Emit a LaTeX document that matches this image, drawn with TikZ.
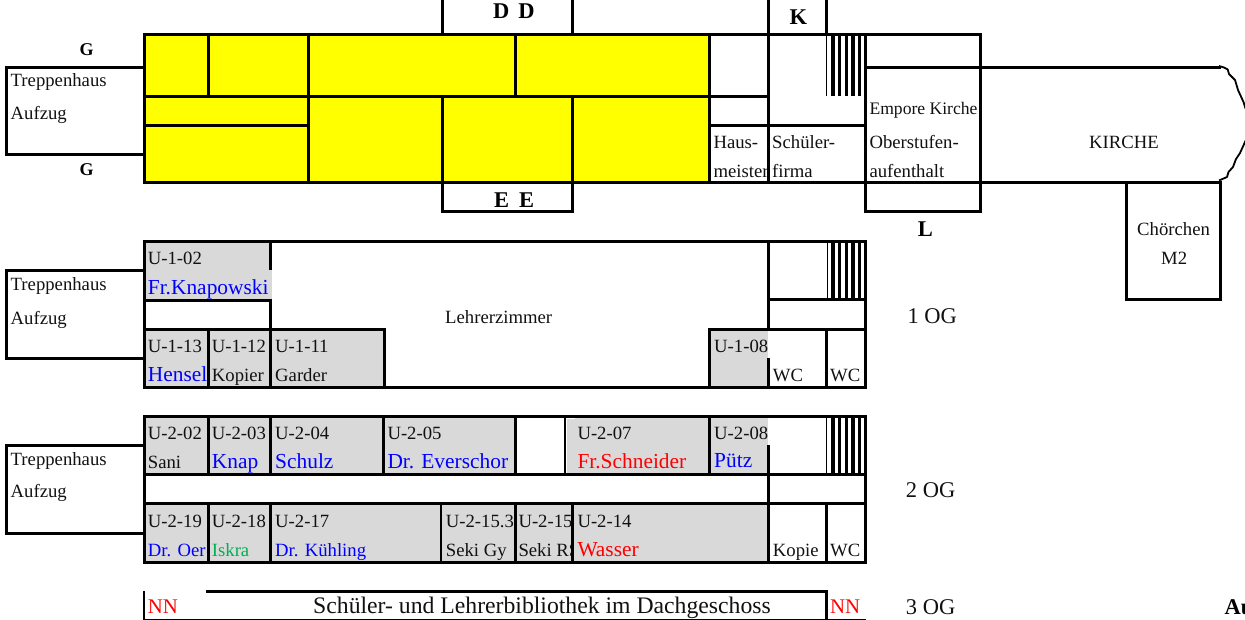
\documentclass[tikz,border=0pt]{standalone}
\usepackage{fontspec}
\setmainfont{Liberation Serif}
\definecolor{roomgrey}{HTML}{D9D9D9}
\definecolor{roomyellow}{HTML}{FFFF00}
\definecolor{nblue}{HTML}{0000FF}
\definecolor{nred}{HTML}{FF0000}
\definecolor{ngreen}{HTML}{00B050}
\definecolor{inkblack}{HTML}{111111}
\tikzset{
  wall/.style={line width=3pt,line cap=rect,draw=black},
  thinwall/.style={line width=1.6pt,draw=black},
  stripe/.style={line width=3.4pt,draw=black},
  lift/.style={yshift=-0.8pt},
  txt/.style={lift,anchor=base west,inner sep=0pt,text=inkblack,font=\fontsize{18.7pt}{20pt}\selectfont},
  big/.style={lift,anchor=base west,inner sep=0pt,text=inkblack,font=\fontsize{21.4pt}{23pt}\selectfont},
  nnlbl/.style={lift,anchor=base west,inner sep=0pt,text=nred,font=\fontsize{20.8pt}{23pt}\selectfont},
  biblbl/.style={lift,anchor=base west,inner sep=0pt,text=inkblack,font=\fontsize{23.7pt}{25pt}\selectfont},
  floorlbl/.style={lift,anchor=base west,inner sep=0pt,text=inkblack,font=\fontsize{22.5pt}{24pt}\selectfont},
  bold/.style={lift,anchor=base west,inner sep=0pt,text=black,font=\bfseries\fontsize{22.5pt}{24pt}\selectfont},
  boldg/.style={lift,anchor=base,inner sep=0pt,text=black,font=\bfseries\fontsize{18pt}{20pt}\selectfont}
}
\begin{document}
\begin{tikzpicture}[x=1pt,y=-1pt]
\useasboundingbox (0,0) rectangle (1245,620);
% fills
\fill[roomyellow] (144,35) rectangle (709,183);
\fill[roomgrey] (144,241.5) rectangle (272,300);
\fill[roomgrey] (144,329.5) rectangle (384,387);
\fill[roomgrey] (709,329.5) rectangle (768.3,387);
\fill[roomgrey] (144,416.7) rectangle (515,474.3);
\fill[roomgrey] (567,416.7) rectangle (768.3,474.3);
\fill[roomgrey] (144,503.3) rectangle (768.3,562);
% ground floor texts
\node[txt] (a1) at (10.5,86) {Treppenhaus};
\node[txt] (a2) at (10.5,119) {Aufzug};
\node[boldg] (g1) at (86.5,55) {G};
\node[boldg] (g2) at (86.5,174.5) {G};
\node[bold] (d) at (493,18) {D \kern3.4pt D};
\node[bold] (e) at (494,207) {E \kern4.2pt E};
\node[bold] (k) at (789.3,23.5) {K};
\node[bold] (l) at (917.7,236) {L};
\node[txt] (h1) at (713.3,148) {Haus-};
\node[txt] (h2) at (713.3,177) {meister};
\node[txt] (s1) at (772,148) {Schüler-};
\node[txt] (s2) at (772,177) {firma};
\node[txt,font=\fontsize{17.6pt}{20pt}\selectfont] (e1) at (869.3,114) {Empore Kirche};
\node[txt] (e2) at (869.3,148) {Oberstufen-};
\node[txt] (e3) at (869.3,177) {aufenthalt};
\node[txt] (kir) at (1089,148) {KIRCHE};
\node[txt] (c1) at (1137,235) {Chörchen};
\node[txt] (c2) at (1161,264) {M2};
% first floor texts
\node[txt] (b1) at (10.5,290) {Treppenhaus};
\node[txt] (b2) at (10.5,323.3) {Aufzug};
\node[txt] (r102) at (147.7,264) {U-1-02};
\node[big,text=nblue] (n102) at (147.7,293.3) {Fr.Knapowski};
\node[txt] (r113) at (147.7,351.7) {U-1-13};
\node[big,text=nblue] (n113) at (147.7,380.3) {Hensel};
\node[txt] (r112) at (211.7,351.7) {U-1-12};
\node[txt] (n112) at (211.7,380.3) {Kopier};
\node[txt] (r111) at (275,351.7) {U-1-11};
\node[txt] (n111) at (275,380.3) {Garder};
\node[txt] (lz) at (445,323) {Lehrerzimmer};
\node[txt] (r108) at (714,351.7) {U-1-08};
\node[txt] (wc1) at (772.7,380.3) {WC};
\node[txt] (wc2) at (830,380.3) {WC};
\node[floorlbl] (og1) at (907.3,322.3) {1 OG};
% second floor texts
\node[txt] (c1b) at (10.5,465) {Treppenhaus};
\node[txt] (c2b) at (10.5,497) {Aufzug};
\node[txt] (r202) at (147.7,439) {U-2-02};
\node[txt] (n202) at (147.7,467.5) {Sani};
\node[txt] (r203) at (211.7,439) {U-2-03};
\node[big,text=nblue] (n203) at (211.7,467.5) {Knap};
\node[txt] (r204) at (275,439) {U-2-04};
\node[big,text=nblue] (n204) at (275,467.5) {Schulz};
\node[txt] (r205) at (387.3,439) {U-2-05};
\node[big,text=nblue] (n205) at (387.3,467.5) {Dr. Everschor};
\node[txt] (r207) at (577.3,439) {U-2-07};
\node[big,text=nred] (n207) at (577.3,467.5) {Fr.Schneider};
\node[txt] (r208) at (714,439) {U-2-08};
\node[big,text=nblue] (n208) at (714,466.5) {Pütz};
\node[txt] (r219) at (147.7,526.7) {U-2-19};
\node[txt,text=nblue] (n219) at (147.7,555.3) {Dr. Oer};
\node[txt] (r218) at (211.7,526.7) {U-2-18};
\node[txt,text=ngreen] (n218) at (211.7,555.3) {Iskra};
\node[txt] (r217) at (275,526.7) {U-2-17};
\node[txt,text=nblue] (n217) at (275,555.3) {Dr. Kühling};
\node[txt] (r2153) at (445.7,526.7) {U-2-15.3};
\node[txt] (n2153) at (445.7,555.3) {Seki Gy};
\node[txt] (r215) at (518.3,526.7) {U-2-15};
\begin{scope}
\clip (515,530) rectangle (572,562);
\node[txt] (n215) at (518.3,555.3) {Seki RS};
\end{scope}
\node[txt] (r214) at (577.3,526.7) {U-2-14};
\node[big,text=nred] (n214) at (577.3,555.3) {Wasser};
\node[txt] (kop) at (772.7,555.3) {Kopie};
\node[txt] (wc3) at (830,555.3) {WC};
\node[floorlbl] (og2) at (905.7,496.7) {2 OG};
% third floor texts
\node[nnlbl] (nn1) at (147.7,612.3) {NN};
\node[biblbl] (bib) at (313,612.3) {Schüler- und Lehrerbibliothek im Dachgeschoss};
\node[nnlbl] (nn2) at (830,612.3) {NN};
\node[floorlbl] (og3) at (905.7,613.3) {3 OG};
\node[bold] (au) at (1224.3,613.3) {Au};
% ground floor walls
\draw[wall] (144,35) rectangle (709,183);
\draw[wall] (709,35) -- (980,35) -- (980,212) -- (865,212) -- (865,35);
\draw[wall] (709,183) -- (1220.5,183);
\draw[wall] (865,67.5) -- (1219,67.5);
\draw[wall] (144,67.5) -- (6.5,67.5) -- (6.5,154.5) -- (144,154.5);
\draw[wall] (144,96.5) -- (768.5,96.5);
\draw[wall] (144,125.5) -- (308.5,125.5);
\draw[wall] (709,125.5) -- (865,125.5);
\draw[wall] (208,35) -- (208,96.5);
\draw[wall] (308.5,35) -- (308.5,183);
\draw[wall] (515,35) -- (515,96.5);
\draw[wall] (442,-3) -- (442,35);
\draw[wall] (572.5,-3) -- (572.5,35);
\draw[wall] (442,96.5) -- (442,212) -- (572.5,212) -- (572.5,96.5);
\draw[wall] (768.5,-3) -- (768.5,183);
\draw[wall] (826.5,-3) -- (826.5,35);
\draw[wall] (1126.7,183) -- (1126.7,300) -- (1220.5,300) -- (1220.5,183);
\draw[line width=1.8pt,line join=round] (1219,66) -- (1224,67.5) -- (1227.7,69.5) -- (1229,74) -- (1235,80) -- (1238,90) -- (1243.5,102) -- (1245,107) -- (1252,125) -- (1245,142) -- (1240,153) -- (1236,159) -- (1233,167) -- (1228.5,172) -- (1227,177) -- (1219,180.5);
% ground floor stairs
\draw[thinwall,line width=1pt] (826.5,35) -- (826.5,96);
\foreach \sx in {833,839.6,846.2,852.8,859.4} \draw[stripe] (\sx,35) -- (\sx,96);
% first floor walls
\draw[wall] (144,241.5) -- (865,241.5) -- (865,387) -- (144,387) -- cycle;
\draw[wall] (144,270.5) -- (6.5,270.5) -- (6.5,358.5) -- (144,358.5);
\draw[wall] (144,300.5) -- (270.5,300.5) -- (270.5,329.5);
\draw[wall] (270.5,241.5) -- (270.5,269);
\draw[wall] (144,329.5) -- (384,329.5) -- (384,387);
\draw[wall] (208,329.5) -- (208,387);
\draw[wall] (270.5,329.5) -- (270.5,387);
\draw[wall] (709,387) -- (709,329.5) -- (865,329.5);
\draw[wall] (768.5,241.5) -- (768.5,329.5);
\draw[wall] (768.5,359) -- (768.5,387);
\draw[wall] (826.5,329.5) -- (826.5,387);
\draw[wall] (768.5,300) -- (865,300);
\draw[thinwall,line width=1pt] (827,241.5) -- (827,298.5);
\foreach \sx in {833,839.6,846.2,852.8,859.4} \draw[stripe] (\sx,241.5) -- (\sx,298.5);
% second floor walls
\draw[wall] (144,416.7) -- (865,416.7) -- (865,562) -- (144,562) -- cycle;
\draw[wall] (144,445.3) -- (6.5,445.3) -- (6.5,533.3) -- (144,533.3);
\draw[wall] (144,474.3) -- (865,474.3);
\draw[wall] (144,503.3) -- (865,503.3);
\draw[wall] (208,416.7) -- (208,474.3);
\draw[wall] (270.5,416.7) -- (270.5,474.3);
\draw[wall] (383.5,416.7) -- (383.5,474.3);
\draw[wall] (515,416.7) -- (515,474.3);
\draw[line width=2pt] (564.8,416.7) -- (564.8,474.3);
\draw[wall] (709,416.7) -- (709,474.3);
\draw[wall] (768.5,446) -- (768.5,503.3);
\draw[wall] (208,503.3) -- (208,562);
\draw[wall] (270.5,503.3) -- (270.5,562);
\draw[line width=2pt] (441,503.3) -- (441,562);
\draw[wall] (515,503.3) -- (515,562);
\draw[wall] (572.5,503.3) -- (572.5,562);
\draw[wall] (768.5,503.3) -- (768.5,562);
\draw[wall] (826.5,503.3) -- (826.5,562);
\draw[thinwall,line width=1pt] (826.5,416.7) -- (826.5,473);
\foreach \sx in {833,839.6,846.2,852.8,859.4} \draw[stripe] (\sx,416.7) -- (\sx,473);
\fill[white] (567,417.6) rectangle (575,418.4);
% third floor walls
\draw[line width=2.2pt] (144,591) -- (144,620);
\draw[wall] (207,591.7) -- (826.5,591.7);
\draw[line width=3pt] (826.5,591.7) -- (826.5,620);
\draw[line width=1.2pt] (144,619.5) -- (865.5,619.5);
\end{tikzpicture}
\end{document}
